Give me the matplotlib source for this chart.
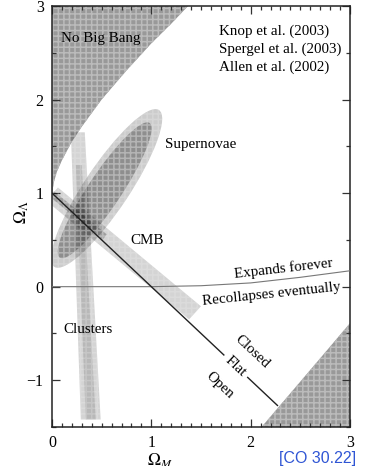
import matplotlib
matplotlib.use('Agg')
import matplotlib.pyplot as plt
from matplotlib.patches import Ellipse, Polygon
from matplotlib.ticker import MultipleLocator

plt.rcParams['font.family'] = ['Liberation Serif', 'DejaVu Serif']
plt.rcParams['mathtext.fontset'] = 'stix'
plt.rcParams['hatch.linewidth'] = 1.1

# boundary of the "No Big Bang" region (Omega_M, Omega_Lambda)
nobang_m = [0.0, 0.02, 0.05, 0.1, 0.2, 0.3, 0.5, 0.75, 1.0, 1.2, 1.37]
nobang_l = [1.0, 1.12, 1.23, 1.35, 1.55, 1.71, 2.0, 2.31, 2.6, 2.81, 3.0]

# lower right shaded corner
corner_m = [2.11, 2.6, 3.0]
corner_l = [-1.5, -0.89, -0.39]

# expands forever / recollapses boundary
recol_m = [0.0, 1.0, 1.5, 2.0, 2.5, 3.0]
recol_l = [0.0, 0.0, 0.01, 0.04, 0.10, 0.17]

# flat universe line, split around its label
flat_m = [[0.0, 1.73], [1.97, 2.27]]
flat_l = [[1.0, -0.73], [-0.97, -1.27]]

# supernova confidence ellipses: centre, full length, full width, tilt
sn_center = [(0.55, 1.05), (0.53, 1.03)]
sn_length = [1.98, 1.70]
sn_width = [0.46, 0.34]
sn_angle = [58, 58]

# CMB band (outer and inner)
cmb_outer = [(0.06, 1.06), (1.50, -0.21), (1.38, -0.35), (-0.06, 0.92)]
cmb_inner = [(0.02, 1.02), (0.55, 0.56), (0.51, 0.50), (-0.02, 0.96)]

# cluster band (outer and inner)
clu_outer = [(0.19, 1.65), (0.33, 1.65), (0.49, -1.42), (0.29, -1.42)]
clu_inner = [(0.24, 1.30), (0.30, 1.30), (0.44, -1.42), (0.34, -1.42)]

refs = ['Knop et al. (2003)', 'Spergel et al. (2003)', 'Allen et al. (2002)']

fig = plt.figure(figsize=(3.68, 4.66), dpi=100)
ax = fig.add_axes([52 / 368, 39 / 466, 298 / 368, 421 / 466])
ax.set_xlim(0, 3)
ax.set_ylim(-1.5, 3)

# shaded forbidden regions
shade = dict(facecolor='#999999', edgecolor='#bbbbbb', hatch='+++', linewidth=0, zorder=1)
ax.fill_between(nobang_m + [0.0], nobang_l + [3.0], 3.0, **shade)
ax.fill_between(corner_m + [3.0], corner_l + [-1.5], -1.5, **shade)

# confidence regions, dotted like a halftone
def region(patch):
    patch.set_facecolor('black')
    patch.set_edgecolor('white')
    patch.set_hatch('+++')
    patch.set_linewidth(0)
    patch.set_zorder(2)
    ax.add_patch(patch)

region(Ellipse(sn_center[0], sn_length[0], sn_width[0], angle=sn_angle[0], alpha=0.2))
region(Ellipse(sn_center[1], sn_length[1], sn_width[1], angle=sn_angle[1], alpha=0.3))
region(Polygon(cmb_outer, alpha=0.17))
region(Polygon(cmb_inner, alpha=0.25))
region(Polygon(clu_outer, alpha=0.17))
region(Polygon(clu_inner, alpha=0.13))

# lines
ax.plot(recol_m, recol_l, color='#777777', lw=0.8, zorder=3)
for xs, ys in zip(flat_m, flat_l):
    ax.plot(xs, ys, color='#222222', lw=1.0, zorder=3)

# labels
fs = 10.8
ax.text(0.09, 2.65, 'No Big Bang', fontsize=fs, va='center', zorder=4)
for i, r in enumerate(refs):
    ax.text(1.68, 2.73 - 0.195 * i, r, fontsize=fs, va='center', zorder=4)
ax.text(1.5, 1.52, 'Supernovae', fontsize=fs, ha='center', va='center', zorder=4)
ax.text(0.96, 0.49, 'CMB', fontsize=fs, ha='center', va='center', zorder=4)
ax.text(0.36, -0.46, 'Clusters', fontsize=fs, ha='center', va='center', zorder=4)
ax.text(2.33, 0.19, 'Expands forever', fontsize=fs, ha='center', va='center',
        rotation=6.5, zorder=4)
ax.text(2.21, -0.085, 'Recollapses eventually', fontsize=fs, ha='center', va='center',
        rotation=6, zorder=4)
ax.text(2.01, -0.69, 'Closed', fontsize=fs, ha='center', va='center', rotation=-43, zorder=4)
ax.text(1.85, -0.85, 'Flat', fontsize=fs, ha='center', va='center', rotation=-43, zorder=4)
ax.text(1.69, -1.05, 'Open', fontsize=fs, ha='center', va='center', rotation=-43, zorder=4)

# axes styling
ax.xaxis.set_major_locator(MultipleLocator(1))
ax.xaxis.set_minor_locator(MultipleLocator(0.1))
ax.yaxis.set_major_locator(MultipleLocator(1))
ax.yaxis.set_minor_locator(MultipleLocator(0.5))
ax.tick_params(which='both', direction='in', top=True, right=True, labelsize=11.5,
               width=0.9, color='#333333')
ax.tick_params(which='major', length=6, pad=6)
ax.tick_params(which='minor', length=3)
ax.set_yticks([-1, 0, 1, 2, 3])
ax.set_yticklabels(['\u22121', '0', '1', '2', '3'])
for s in ax.spines.values():
    s.set_linewidth(1.1)
    s.set_color('#222222')

fig.text(22 / 368, 1 - 212 / 466, r'$\Omega_\Lambda$', fontsize=12.5, rotation=90,
         ha='center', va='center')
fig.text(160 / 368, 1 - 452 / 466, r'$\Omega_M$', fontsize=12.5, ha='center', va='top')
fig.text(279 / 368, 0.0, '[CO 30.22]', fontsize=11.5, color='#2f55d4',
         family='Liberation Sans', ha='left', va='bottom')

fig.savefig('out.png', dpi=100)
